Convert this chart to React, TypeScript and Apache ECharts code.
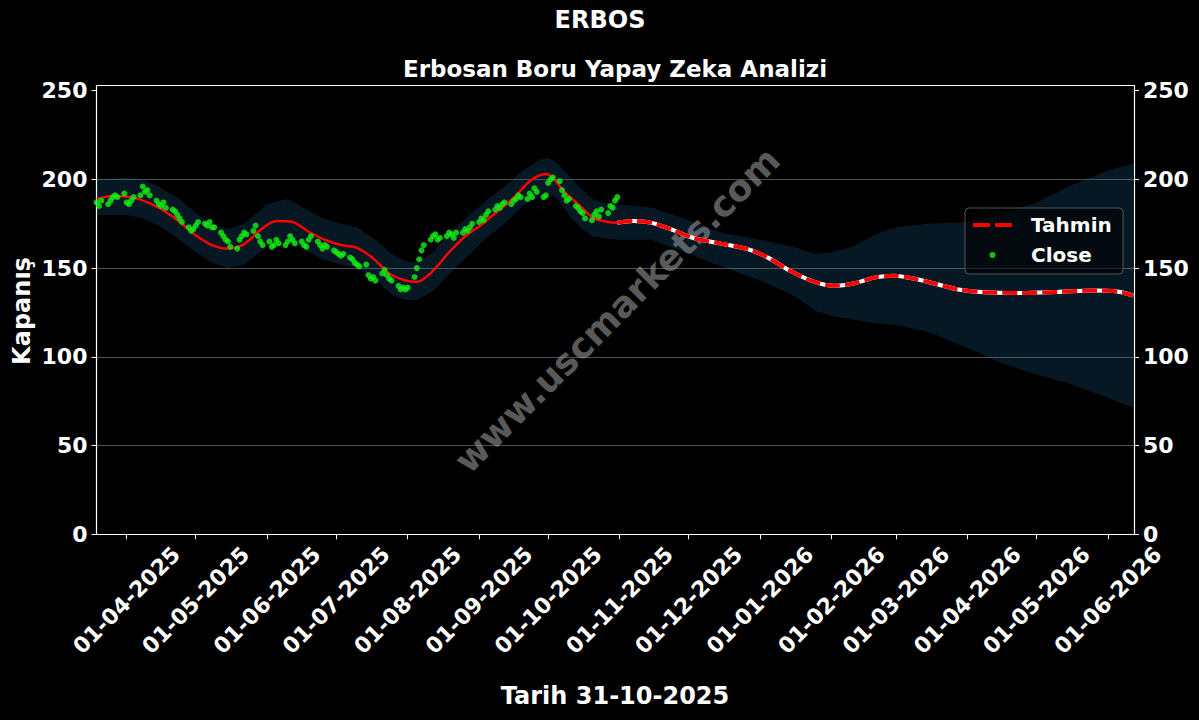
import React, { useEffect, useRef } from "react";
import * as echarts from "echarts";

const FONT = "'DejaVu Sans', sans-serif";

const TITLE = "ERBOS";
const SUBTITLE = "Erbosan Boru Yapay Zeka Analizi";
const X_NAME = "Tarih 31-10-2025";
const Y_NAME = "Kapanış";
const WATERMARK = "www.uscmarkets.com";
const LEGEND_PRED = "Tahmin";
const LEGEND_CLOSE = "Close";

// Close prices, one per weekday from 19-03-2025 to 31-10-2025
const CLOSE_START = "2025-03-19";
const CLOSE_END = "2025-10-31";
const CLOSE_VALUES = [
  // Mar
  187, 185, 188, 186, 188, 190, 191, 190, 192,
  // Apr
  187, 186, 188, 190, 191, 196, 193, 194, 191, 188, 186, 185, 187, 184, 183, 182, 180, 178, 176, 173, 171, 172,
  // May
  174, 176, 175, 174, 176, 173, 173, 170, 168, 166, 165, 162, 161, 166, 168, 170, 169, 171, 174, 168, 165, 163,
  // Jun
  165, 162, 163, 166, 164, 163, 165, 168, 166, 164, 165, 163, 162, 166, 168, 165, 163, 161, 163, 162, 160,
  // Jul
  159, 158, 157, 158, 156, 155, 153, 152, 151, 152, 146, 144, 145, 143, 147, 149, 146, 144, 143, 140, 138, 139, 138,
  // Aug
  139, 145, 150, 155, 160, 163, 166, 168, 169, 166, 167, 168, 170, 169, 167, 170, 170, 172, 171, 173, 175,
  // Sep
  176, 178, 177, 180, 182, 183, 185, 184, 186, 187, 186, 188, 189, 191, 190, 189, 192, 190, 195, 193, 190, 191,
  // Oct
  198, 200, 201, 199, 194, 191, 188, 189, 185, 184, 182, 181, 178, 177, 180, 182, 179, 183, 181, 185, 184, 188, 190,
];

// Model fit over the history (solid red)
const PRED_HIST_DATES = [
  "2025-03-19", "2025-03-26", "2025-04-03", "2025-04-10", "2025-04-17", "2025-04-24",
  "2025-05-01", "2025-05-08", "2025-05-15", "2025-05-22", "2025-05-29", "2025-06-05",
  "2025-06-12", "2025-06-19", "2025-06-26", "2025-07-03", "2025-07-10", "2025-07-17",
  "2025-07-24", "2025-07-31", "2025-08-05", "2025-08-12", "2025-08-19", "2025-08-26",
  "2025-09-02", "2025-09-09", "2025-09-16", "2025-09-23", "2025-09-30", "2025-10-03",
  "2025-10-08", "2025-10-14", "2025-10-21", "2025-10-27", "2025-10-31",
];
const PRED_HIST_VALUES = [
  189, 190.7, 190, 187, 182.5, 176,
  168.5, 163, 161, 163.5, 171.5, 176.5,
  176, 170.5, 166, 163, 161.4, 155.5,
  147, 143, 142.3, 148.5, 159, 168,
  174.5, 182, 189.5, 199, 203, 201,
  193, 186, 178, 176, 175.6,
];

// Forecast (dashed red / white)
const PRED_FUTURE_DATES = [
  "2025-10-31", "2025-11-07", "2025-11-15", "2025-11-24", "2025-12-03", "2025-12-15",
  "2025-12-27", "2026-01-05", "2026-01-14", "2026-01-24", "2026-02-02", "2026-02-11",
  "2026-02-20", "2026-02-28", "2026-03-09", "2026-03-18", "2026-03-28", "2026-04-08",
  "2026-04-24", "2026-05-10", "2026-05-26", "2026-06-05", "2026-06-12",
];
const PRED_FUTURE_VALUES = [
  175.6, 176.6, 175.5, 171.5, 167, 163.8,
  160.6, 155.5, 148.5, 142.5, 140, 141.5,
  144.8, 145.7, 144, 141.2, 138, 136.4,
  136, 136.6, 137.4, 136.8, 134.5,
];

// Confidence band
const BAND_DATES = [
  "2025-03-19", "2025-04-01", "2025-04-08", "2025-04-15", "2025-04-24", "2025-05-01",
  "2025-05-08", "2025-05-15", "2025-05-22", "2025-06-01", "2025-06-10", "2025-06-18",
  "2025-06-25", "2025-07-03", "2025-07-10", "2025-07-17", "2025-07-25", "2025-07-31",
  "2025-08-05", "2025-08-12", "2025-08-20", "2025-08-28", "2025-09-05", "2025-09-12",
  "2025-09-20", "2025-09-27", "2025-10-01", "2025-10-05", "2025-10-10", "2025-10-15",
  "2025-10-20", "2025-10-25", "2025-10-31", "2025-11-15", "2025-12-01", "2025-12-15",
  "2026-01-01", "2026-01-15", "2026-01-25", "2026-02-01", "2026-02-10", "2026-02-20",
  "2026-03-01", "2026-03-15", "2026-04-01", "2026-04-15", "2026-05-01", "2026-05-15",
  "2026-06-01", "2026-06-12",
];
const BAND_UPPER = [
  200, 201, 200, 196, 189, 181,
  175, 172, 175, 186, 189, 183,
  178, 175, 173, 167, 158, 154,
  153, 159, 171, 180, 189, 196,
  205, 211, 212, 209, 202, 195,
  189, 187, 186, 184, 177, 170,
  166, 162, 158, 159, 162, 169,
  173, 175, 176, 180, 187, 196,
  205, 209,
];
const BAND_LOWER = [
  180, 180, 178, 174, 166, 159,
  153, 150, 152, 162, 165, 160,
  155, 152, 150, 145, 135, 132,
  132, 137, 148, 158, 168, 175,
  185, 190, 192, 189, 180, 173,
  168, 167, 166, 166, 158, 151,
  143, 135, 126, 123, 121, 119,
  118, 114, 105, 97, 90, 85,
  77, 71,
];

const Y_TICKS = [0, 50, 100, 150, 200, 250];
const X_TICKS = [
  "2025-04-01", "2025-05-01", "2025-06-01", "2025-07-01", "2025-08-01",
  "2025-09-01", "2025-10-01", "2025-11-01", "2025-12-01", "2026-01-01",
  "2026-02-01", "2026-03-01", "2026-04-01", "2026-05-01", "2026-06-01",
];

const DAY = 86400000;
const ts = (s: string) => Date.parse(s + "T00:00:00Z");
const X_MIN = ts("2025-03-19") - 2 * 3600000;
const X_MAX = ts("2026-06-12") + 7 * 3600000;
const Y_MAX = 252.8;

const RED = "#ff0000";
const GREEN = "#14f014";
const BAND = "rgba(31,119,180,0.2)";

function weekdays(start: string, end: string): number[] {
  const out: number[] = [];
  for (let t = ts(start); t <= ts(end); t += DAY) {
    const d = new Date(t).getUTCDay();
    if (d !== 0 && d !== 6) out.push(t);
  }
  return out;
}

const pad = (n: number) => (n < 10 ? "0" + n : "" + n);
const fmtDate = (v: number) => {
  const d = new Date(v);
  return pad(d.getUTCDate()) + "-" + pad(d.getUTCMonth() + 1) + "-" + d.getUTCFullYear();
};

// legend icons: invisible corner anchors keep the 39x14 box, drawing centred inside
const ICON_DASH = "path://M0,0L0,0M39,14L39,14M0,5h17v4h-17zM22,5h17v4h-17z";
const ICON_DOT = "path://M0,0L0,0M39,14L39,14M16.5,7A3,3,0,1,0,22.5,7A3,3,0,1,0,16.5,7z";

export default function App() {
  const ref = useRef<HTMLDivElement>(null);

  useEffect(() => {
    document.body.style.margin = "0";
    document.body.style.background = "#000";
    if (!ref.current) return;
    const chart = echarts.init(ref.current, null, { renderer: "svg" });

    const closeDates = weekdays(CLOSE_START, CLOSE_END);
    const n = Math.min(closeDates.length, CLOSE_VALUES.length);
    const closeData: [number, number][] = [];
    for (let i = 0; i < n; i++) closeData.push([closeDates[i], CLOSE_VALUES[i]]);

    const histData = PRED_HIST_DATES.map((d, i) => [ts(d), PRED_HIST_VALUES[i]]);
    const futData = PRED_FUTURE_DATES.map((d, i) => [ts(d), PRED_FUTURE_VALUES[i]]);
    const bandTs = BAND_DATES.map(ts);
    const xTickTs = X_TICKS.map(ts);

    const labelFont = {
      color: "#ffffff",
      fontFamily: FONT,
      fontWeight: "bold" as const,
      fontSize: 22,
    };

    const option: any = {
      animation: false,
      backgroundColor: "#000000",
      grid: {
        left: 96.5,
        right: 65,
        top: 85.7,
        bottom: 185.7,
        containLabel: false,
        outerBoundsMode: "none",
      },
      xAxis: [
        {
          type: "value",
          min: X_MIN,
          max: X_MAX,
          position: "bottom",
          scale: true,
          axisLine: { show: true, onZero: false, lineStyle: { color: "#ffffff", width: 1.2 } },
          axisTick: {
            show: true,
            length: 5,
            lineStyle: { color: "#ffffff", width: 1 },
            customValues: xTickTs,
          },
          axisLabel: {
            ...labelFont,
            rotate: 45,
            margin: 66,
            align: "center",
            verticalAlign: "middle",
            customValues: xTickTs,
            formatter: (v: number) => fmtDate(v),
          },
          splitLine: { show: false },
        },
        {
          type: "value",
          min: X_MIN,
          max: X_MAX,
          position: "top",
          scale: true,
          axisLine: { show: true, onZero: false, lineStyle: { color: "#ffffff", width: 1.2 } },
          axisTick: { show: false },
          axisLabel: { show: false },
          splitLine: { show: false },
        },
      ],
      yAxis: [
        {
          type: "value",
          min: 0,
          max: Y_MAX,
          interval: 50,
          position: "left",
          axisLine: { show: true, onZero: false, lineStyle: { color: "#ffffff", width: 1.2 } },
          axisTick: {
            show: true,
            length: 5,
            lineStyle: { color: "#ffffff" },
            customValues: Y_TICKS,
          },
          axisLabel: { ...labelFont, margin: 9, customValues: Y_TICKS },
          splitLine: {
            show: true,
            showMinLine: false,
            showMaxLine: false,
            lineStyle: { color: "#505050", width: 1 },
          },
        },
        {
          type: "value",
          min: 0,
          max: Y_MAX,
          interval: 50,
          position: "right",
          axisLine: { show: true, onZero: false, lineStyle: { color: "#ffffff", width: 1.2 } },
          axisTick: {
            show: true,
            length: 5,
            lineStyle: { color: "#ffffff" },
            customValues: Y_TICKS,
          },
          axisLabel: { ...labelFont, margin: 9, customValues: Y_TICKS },
          splitLine: { show: false },
        },
      ],
      legend: {
        data: [
          { name: LEGEND_PRED, icon: ICON_DASH, itemStyle: { color: RED, borderWidth: 0 } },
          { name: LEGEND_CLOSE, icon: ICON_DOT, itemStyle: { color: GREEN, borderWidth: 0 } },
        ],
        orient: "vertical",
        left: 973,
        top: 213,
        padding: 0,
        itemGap: 6,
        itemWidth: 39,
        itemHeight: 14,
        selectedMode: false,
        z: 10,
        itemStyle: { borderWidth: 0 },
        textStyle: {
          color: "#ffffff",
          fontFamily: FONT,
          fontWeight: "bold",
          fontSize: 20,
          lineHeight: 24,
          padding: [0, 0, 0, 14],
        },
      },
      graphic: [
        {
          type: "text",
          x: 600,
          y: 20,
          z: 10,
          style: { text: TITLE, fill: "#ffffff", fontFamily: FONT, fontWeight: "bold", fontSize: 24, align: "center", verticalAlign: "middle" },
        },
        {
          type: "text",
          x: 615,
          y: 69,
          z: 10,
          style: { text: SUBTITLE, fill: "#ffffff", fontFamily: FONT, fontWeight: "bold", fontSize: 23, align: "center", verticalAlign: "middle" },
        },
        {
          type: "text",
          x: 615,
          y: 696,
          z: 10,
          style: { text: X_NAME, fill: "#ffffff", fontFamily: FONT, fontWeight: "bold", fontSize: 24, align: "center", verticalAlign: "middle" },
        },
        {
          type: "text",
          x: 22,
          y: 311,
          rotation: Math.PI / 2,
          z: 10,
          style: { text: Y_NAME, fill: "#ffffff", fontFamily: FONT, fontWeight: "bold", fontSize: 24, align: "center", verticalAlign: "middle" },
        },
        {
          type: "text",
          x: 617,
          y: 310,
          rotation: Math.PI / 4,
          z: 1,
          style: { text: WATERMARK, fill: "rgba(150,150,150,0.6)", fontFamily: FONT, fontWeight: "bold", fontSize: 36, align: "center", verticalAlign: "middle" },
        },
        {
          type: "rect",
          z: 6,
          shape: { x: 965, y: 208, width: 158, height: 66, r: 4 },
          style: { fill: "rgba(0,0,0,0.55)", stroke: "#555555", lineWidth: 1 },
        },
      ],
      series: [
        {
          type: "custom",
          name: "band",
          z: 0,
          silent: true,
          data: [[bandTs[0], BAND_UPPER[0]]],
          encode: { x: 0, y: 1 },
          renderItem: (_params: any, api: any) => {
            const pts: number[][] = [];
            for (let i = 0; i < bandTs.length; i++) pts.push(api.coord([bandTs[i], BAND_UPPER[i]]));
            for (let i = bandTs.length - 1; i >= 0; i--) pts.push(api.coord([bandTs[i], BAND_LOWER[i]]));
            return { type: "polygon", shape: { points: pts }, style: { fill: BAND } };
          },
        },
        {
          type: "line",
          name: "fit",
          data: histData,
          showSymbol: false,
          smooth: 0.3,
          z: 3,
          lineStyle: { color: RED, width: 2.5 },
          itemStyle: { color: RED },
        },
        {
          type: "line",
          name: "futureBase",
          data: futData,
          showSymbol: false,
          smooth: 0.3,
          z: 3,
          lineStyle: { color: "#ffffff", width: 4 },
          itemStyle: { color: "#ffffff" },
        },
        {
          type: "line",
          name: LEGEND_PRED,
          data: futData,
          showSymbol: false,
          smooth: 0.3,
          z: 4,
          lineStyle: { color: RED, width: 4, type: [15, 5] },
          itemStyle: { color: RED },
        },
        {
          type: "scatter",
          name: LEGEND_CLOSE,
          data: closeData,
          symbolSize: 6,
          z: 5,
          itemStyle: { color: GREEN },
        },
      ],
    };

    chart.setOption(option);
    return () => chart.dispose();
  }, []);

  return <div ref={ref} style={{ width: 1199, height: 720, background: "#000" }} />;
}
